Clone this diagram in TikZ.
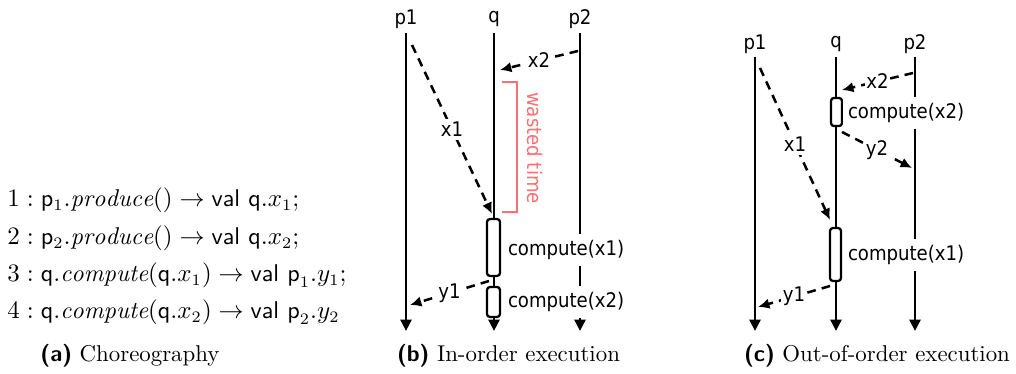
\documentclass[tikz,border=0pt]{standalone}
\usepackage{fontspec}
\newfontfamily\dv{DejaVu Sans Condensed}
\usetikzlibrary{arrows.meta}
\definecolor{wasted}{RGB}{255,110,115}
\tikzset{
  life/.style={line width=1.2pt,-{Triangle[length=5pt,width=4.8pt]}},
  msg/.style={line width=1.1pt,dash pattern=on 3.8pt off 2.7pt,-{Latex[length=5pt,width=4.6pt]}},
  lbl/.style={font=\dv\fontsize{8.8}{10}\selectfont,fill=white,inner sep=2pt},
  plbl/.style={font=\dv\fontsize{8.8}{10}\selectfont,inner sep=0pt},
  actbox/.style={draw,line width=1pt,fill=white,rounded corners=1.3pt,inner sep=0pt},
  captxt/.style={font=\fontsize{10}{12}\selectfont,inner sep=0pt},
  choreo/.style={anchor=west,font=\fontsize{10.6}{12}\selectfont,inner sep=0pt}
}
\begin{document}
\begin{tikzpicture}[x=0.4375pt,y=-0.4375pt]
\useasboundingbox (0,0) rectangle (1016,374);
% ---------- (a) ----------
\node[choreo] (l1) at (7,200) {$1: \mathsf{p}_1.\mathit{produce}() \rightarrow \textsf{val q}.x_1;$};
\node[choreo] (l2) at (7,238) {$2: \mathsf{p}_2.\mathit{produce}() \rightarrow \textsf{val q}.x_2;$};
\node[choreo] (l3) at (7,275) {$3: \mathsf{q}.\mathit{compute}(\mathsf{q}.x_1) \rightarrow \textsf{val p}_1.y_1;$};
\node[choreo] (l4) at (7,312) {$4: \mathsf{q}.\mathit{compute}(\mathsf{q}.x_2) \rightarrow \textsf{val p}_2.y_2$};
\node[captxt] (capa) at (130,356) {{\sffamily\bfseries (a)} Choreography};
% ---------- (b) ----------
\node[plbl] (bp1) at (406,19) {p1};
\node[plbl] (bq) at (494,19) {q};
\node[plbl] (bp2) at (580,19) {p2};
\coordinate (b1t) at (406,33); \coordinate (b1b) at (406,331);
\coordinate (b2t) at (494,33); \coordinate (b2b) at (494,331);
\coordinate (b3t) at (580,33); \coordinate (b3b) at (580,331);
\draw[life] (b1t) -- (b1b);
\draw[life] (b2t) -- (b2b);
\draw[life] (b3t) -- (b3b);
\node[actbox,minimum width=5.7pt,minimum height=24.9pt] (bc1) at (493.5,247.5) {};
\node[actbox,minimum width=5.7pt,minimum height=13.1pt] (bc2) at (493.5,302) {};
\node[lbl,anchor=west,inner ysep=2.6pt] (bl1) at (503,250) {compute(x1)};
\node[lbl,anchor=west,inner ysep=2.6pt] (bl2) at (503,302) {compute(x2)};
\coordinate (bx2s) at (578,51); \coordinate (bx2e) at (500,70);
\coordinate (bx1s) at (412,45); \coordinate (bx1e) at (492,214);
\coordinate (by1s) at (489,281); \coordinate (by1e) at (410,305);
\draw[msg] (bx2s) -- node[lbl,inner sep=0.8pt] (bx2l) {x2} (bx2e);
\draw[msg] (bx1s) -- node[lbl,inner sep=1.5pt] (bx1l) {x1} (bx1e);
\draw[msg] (by1s) -- node[lbl,inner sep=0.8pt] (by1l) {y1} (by1e);
\coordinate (w1) at (502,82); \coordinate (w2) at (517,82);
\coordinate (w3) at (517,212); \coordinate (w4) at (502,212);
\draw[wasted,line width=1pt] (w1) -- (w2) -- (w3) -- (w4);
\node[plbl,text=wasted,rotate=-90] (wt) at (535,148) {wasted time};
\node[captxt] (capb) at (508.5,356) {{\sffamily\bfseries (b)} In-order execution};
% ---------- (c) ----------
\node[plbl] (cp1) at (755,44) {p1};
\node[plbl] (cq) at (836,44) {q};
\node[plbl] (cp2) at (915,44) {p2};
\coordinate (c1t) at (755,57); \coordinate (c1b) at (755,331);
\coordinate (c2t) at (836,57); \coordinate (c2b) at (836,331);
\coordinate (c3t) at (915,57); \coordinate (c3b) at (915,331);
\draw[life] (c1t) -- (c1b);
\draw[life] (c2t) -- (c2b);
\draw[life] (c3t) -- (c3b);
\node[actbox,minimum width=4.8pt,minimum height=12.3pt] (cc2) at (836.5,112) {};
\node[actbox,minimum width=4.8pt,minimum height=23.2pt] (cc1) at (835.5,254.5) {};
\node[lbl,anchor=west,inner ysep=2.6pt] (cl2) at (843,113) {compute(x2)};
\node[lbl,anchor=west,inner ysep=2.6pt] (cl1) at (843,255) {compute(x1)};
\coordinate (cx2s) at (913,73); \coordinate (cx2e) at (842,90);
\coordinate (cy2s) at (842,132); \coordinate (cy2e) at (912,168);
\coordinate (cx1s) at (760,68); \coordinate (cx1e) at (830,220);
\coordinate (cy1s) at (830,286); \coordinate (cy1e) at (758,307);
\draw[msg] (cx2s) -- node[lbl,inner sep=0.8pt] (cx2l) {x2} (cx2e);
\draw[msg] (cy2s) -- node[lbl,inner sep=0.8pt] (cy2l) {y2} (cy2e);
\draw[msg] (cx1s) -- node[lbl,inner sep=1.5pt] (cx1l) {x1} (cx1e);
\draw[msg] (cy1s) -- node[lbl,inner sep=0.8pt] (cy1l) {y1} (cy1e);
\node[captxt] (capc) at (877,356) {{\sffamily\bfseries (c)} Out-of-order execution};
\end{tikzpicture}
\end{document}
